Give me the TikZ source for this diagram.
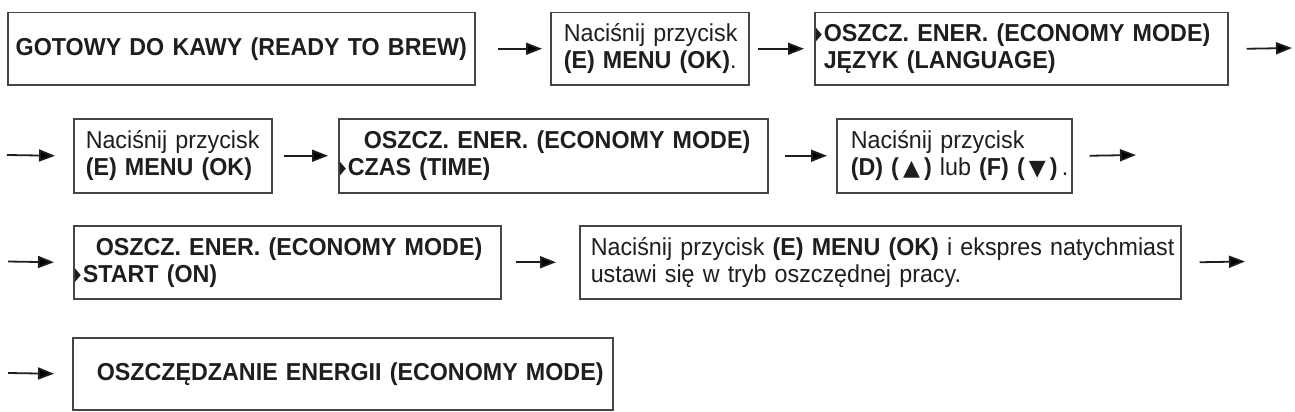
\documentclass[tikz,border=0pt]{standalone}
\usepackage{fontspec}
\setmainfont{Liberation Sans}[FakeStretch=0.95]
\newfontfamily\dejavu{DejaVu Sans}
\usetikzlibrary{arrows.meta}
\definecolor{ink}{HTML}{1E1E1E}
\definecolor{frame}{HTML}{454545}
\newcommand\cur{\llap{\tikz[baseline=0pt,x=1pt,y=1pt]\fill[ink] (0,0)--(0,14)--(6,7)--cycle;\hspace{2pt}}}
\newcommand\triup{{\dejavu\fontsize{22}{24}\selectfont ▲}}
\newcommand\tridn{{\dejavu\fontsize{22}{24}\selectfont ▼}}
\begin{document}
\begin{tikzpicture}[x=1pt,y=-1pt,
  box/.style={draw=frame, line width=1.5pt, rectangle, anchor=north west,
    inner ysep=0pt, align=left, text=ink,
    font=\fontsize{24.5}{27}\selectfont},
  arr/.style={draw=ink, line width=1.8pt, -{Triangle[length=16pt,width=12pt]}}]
\useasboundingbox (0,0) rectangle (1295,412);
% row 1
\node[box, align=center, text width=457pt, inner xsep=5pt, minimum height=72pt] (A) at (7,12)
  {\textbf{GOTOWY DO KAWY (READY TO BREW)}};
\node[box, text width=172pt, inner xsep=13pt, minimum height=72pt] (B) at (550,12)
  {\mbox{Naciśnij przycisk}\\\mbox{\textbf{(E) MENU (OK)}.}};
\node[box, text width=395pt, inner xsep=9pt, minimum height=72pt] (C) at (814,12)
  {\mbox{\cur\textbf{OSZCZ. ENER. (ECONOMY MODE)}}\\\mbox{\textbf{JĘZYK (LANGUAGE)}}};
\coordinate (r1) at (1292,48);
\draw[arr] ([xshift=22pt]A.east) -- ([xshift=-8pt]B.west);
\draw[arr] ([xshift=8pt]B.east) -- ([xshift=-10pt]C.west);
\draw[arr] ([xshift=18pt]C.east) -- (r1);
% row 2
\node[box, text width=174pt, inner xsep=12pt, minimum height=74pt] (D) at (73,118)
  {\mbox{Naciśnij przycisk}\\\mbox{\textbf{(E) MENU (OK)}}};
\node[box, text width=411pt, inner xsep=9pt, minimum height=74pt] (E) at (338,118)
  {\mbox{\hspace*{16pt}\textbf{OSZCZ. ENER. (ECONOMY MODE)}}\\\mbox{\cur\textbf{CZAS (TIME)}}};
\node[box, text width=207pt, inner xsep=14pt, minimum height=74pt] (F) at (836,118)
  {\mbox{Naciśnij przycisk}\\\mbox{\textbf{(D) (}\,\triup\,\textbf{)} lub \textbf{(F) (}\,\tridn\,\textbf{)}\,.}};
\coordinate (l2) at (7,155);
\coordinate (r2) at (1136,155);
\draw[arr] (l2) -- ([xshift=-18pt]D.west);
\draw[arr] ([xshift=11pt]D.east) -- ([xshift=-10pt]E.west);
\draw[arr] ([xshift=16pt]E.east) -- ([xshift=-9pt]F.west);
\draw[arr] ([xshift=17pt]F.east) -- (r2);
% row 3
\node[box, text width=409pt, inner xsep=9pt, minimum height=73pt] (G) at (73,225)
  {\mbox{\hspace*{13pt}\textbf{OSZCZ. ENER. (ECONOMY MODE)}}\\\mbox{\cur\textbf{START (ON)}}};
\node[box, text width=579pt, inner xsep=11pt, minimum height=73pt] (H) at (579,225)
  {\mbox{Naciśnij przycisk \textbf{(E) MENU (OK)} i ekspres natychmiast}\\\mbox{ustawi się w tryb oszczędnej pracy.}};
\coordinate (l3) at (8,261.5);
\coordinate (r3) at (1245,261.5);
\draw[arr] (l3) -- ([xshift=-19pt]G.west);
\draw[arr] ([xshift=14pt]G.east) -- ([xshift=-23pt]H.west);
\draw[arr] ([xshift=18pt]H.east) -- (r3);
% row 4
\node[box, text width=492pt, inner xsep=24pt, minimum height=72pt] (I) at (72,337)
  {\mbox{\textbf{OSZCZĘDZANIE ENERGII (ECONOMY MODE)}}};
\coordinate (l4) at (8,373);
\draw[arr] (l4) -- ([xshift=-18pt]I.west);
\end{tikzpicture}
\end{document}
